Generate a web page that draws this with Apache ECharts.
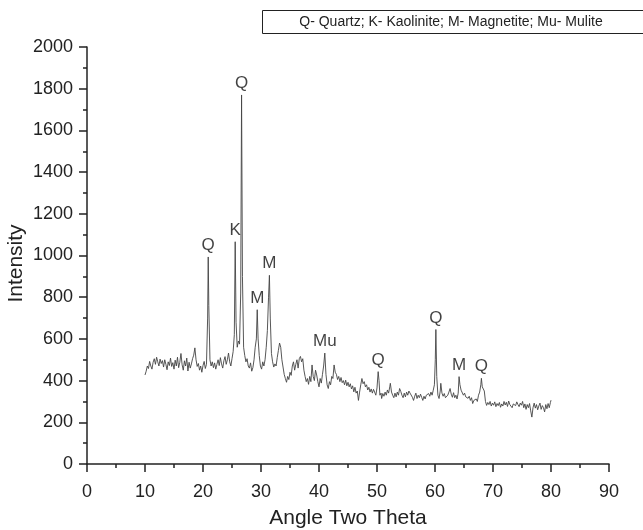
<!DOCTYPE html>
<html>
<head>
<meta charset="utf-8">
<script src="https://cdn.jsdelivr.net/npm/echarts@6/dist/echarts.min.js"></script>
<style>
  html, body { margin: 0; padding: 0; background: #fff; }
  #chart { width: 643px; height: 530px; }
</style>
</head>
<body>
<div id="chart"></div>
<script>
// XRD scan: [two-theta (deg), intensity (counts)]
const scanPoints = [
  [10.0,427],[10.2,445],[10.4,470],[10.6,458],[10.8,492],[11.0,470],[11.2,455],[11.4,488],[11.6,505],[11.8,478],
  [12.0,512],[12.2,490],[12.4,470],[12.6,503],[12.8,482],[13.0,496],[13.2,465],[13.4,500],[13.6,478],[13.8,452],
  [14.0,490],[14.2,472],[14.4,508],[14.6,468],[14.8,486],[15.0,455],[15.2,498],[15.4,470],[15.6,512],[15.8,462],
  [16.0,488],[16.2,530],[16.4,476],[16.6,450],[16.8,495],[17.0,470],[17.2,508],[17.4,446],[17.6,488],[17.8,460],
  [18.0,480],[18.2,505],[18.4,522],[18.6,557],[18.8,500],[19.0,468],[19.2,482],[19.4,450],[19.6,470],[19.8,440],
  [20.0,472],[20.2,492],[20.4,458],[20.6,478],[20.8,700],[20.9,993],[21.0,760],[21.2,500],[21.4,470],[21.6,490],
  [21.8,462],[22.0,485],[22.2,455],[22.4,478],[22.6,500],[22.8,472],[23.0,510],[23.2,480],[23.4,460],[23.6,495],
  [23.8,515],[24.0,478],[24.2,500],[24.4,532],[24.6,490],[24.8,470],[25.0,505],[25.2,540],[25.4,620],[25.55,1066],
  [25.7,680],[25.9,560],[26.1,590],[26.3,575],[26.5,820],[26.65,1770],[26.8,900],[27.0,560],[27.2,520],[27.4,490],
  [27.6,505],[27.8,470],[28.0,460],[28.2,485],[28.4,445],[28.6,462],[28.8,500],[29.0,560],[29.2,600],[29.35,740],
  [29.5,600],[29.7,520],[29.9,470],[30.1,455],[30.3,490],[30.5,470],[30.7,500],[30.9,560],[31.1,640],[31.3,800],
  [31.45,905],[31.6,700],[31.8,530],[32.0,490],[32.2,465],[32.4,480],[32.6,470],[32.8,510],[33.0,545],[33.2,580],
  [33.4,560],[33.6,500],[33.8,465],[34.0,430],[34.2,410],[34.4,392],[34.6,420],[34.8,405],[35.0,440],[35.2,425],
  [35.4,470],[35.6,490],[35.8,450],[36.0,478],[36.2,500],[36.4,460],[36.6,505],[36.8,516],[37.0,490],[37.2,505],
  [37.4,450],[37.6,420],[37.8,395],[38.0,410],[38.2,382],[38.4,420],[38.6,395],[38.8,475],[39.0,420],[39.2,400],
  [39.4,450],[39.6,427],[39.8,395],[40.0,370],[40.2,410],[40.4,388],[40.6,430],[40.8,470],[41.0,532],[41.2,430],
  [41.4,380],[41.6,362],[41.8,395],[42.0,380],[42.2,420],[42.4,410],[42.6,475],[42.8,440],[43.0,430],[43.2,405],
  [43.4,420],[43.6,395],[43.8,415],[44.0,390],[44.2,400],[44.4,380],[44.6,402],[44.8,375],[45.0,392],[45.2,370],
  [45.4,385],[45.6,360],[45.8,375],[46.0,346],[46.2,368],[46.4,340],[46.6,350],[46.8,305],[47.0,345],[47.2,380],
  [47.4,410],[47.6,385],[47.8,395],[48.0,370],[48.2,380],[48.4,355],[48.6,368],[48.8,345],[49.0,360],[49.2,340],
  [49.4,358],[49.6,350],[49.8,330],[50.0,365],[50.2,443],[50.35,400],[50.5,330],[50.7,340],[50.8,314],[51.0,338],
  [51.2,325],[51.4,345],[51.6,330],[51.8,355],[52.0,340],[52.2,370],[52.3,387],[52.5,345],[52.7,330],[52.9,318],
  [53.1,340],[53.3,322],[53.5,345],[53.7,330],[53.9,362],[54.1,348],[54.3,330],[54.5,318],[54.7,340],[54.9,322],
  [55.1,345],[55.3,330],[55.5,350],[55.7,340],[55.9,346],[56.1,320],[56.3,305],[56.5,325],[56.7,340],[56.9,314],
  [57.1,330],[57.3,318],[57.5,335],[57.7,320],[57.9,305],[58.1,325],[58.3,312],[58.5,330],[58.7,322],[58.9,338],
  [59.1,325],[59.3,345],[59.5,330],[59.7,354],[59.9,380],[60.05,500],[60.15,645],[60.3,420],[60.5,330],[60.7,314],
  [60.9,350],[61.0,387],[61.2,340],[61.4,325],[61.6,338],[61.8,318],[62.0,314],[62.2,330],[62.4,345],[62.6,362],
  [62.8,335],[63.0,320],[63.2,342],[63.4,318],[63.6,330],[63.8,312],[64.0,340],[64.15,419],[64.3,380],[64.5,354],
  [64.7,345],[64.9,330],[65.1,340],[65.3,322],[65.5,330],[65.7,315],[65.9,325],[66.1,305],[66.3,318],[66.5,290],
  [66.7,305],[66.9,298],[67.1,312],[67.3,300],[67.5,330],[67.7,345],[67.9,380],[68.0,411],[68.15,370],[68.3,362],
  [68.5,350],[68.7,300],[68.9,281],[69.1,295],[69.3,285],[69.5,300],[69.7,278],[69.9,292],[70.1,282],[70.3,298],
  [70.5,275],[70.7,290],[70.9,280],[71.1,295],[71.3,272],[71.5,288],[71.7,278],[71.9,300],[72.1,283],[72.3,296],
  [72.5,276],[72.7,302],[72.9,285],[73.1,292],[73.3,270],[73.5,288],[73.7,295],[73.9,280],[74.1,298],[74.3,285],
  [74.5,275],[74.7,292],[74.9,282],[75.1,300],[75.3,270],[75.5,288],[75.7,262],[75.9,285],[76.1,270],[76.3,290],
  [76.5,255],[76.7,225],[76.9,270],[77.1,292],[77.3,268],[77.5,285],[77.7,260],[77.9,278],[78.1,292],[78.3,262],
  [78.5,280],[78.7,270],[78.9,250],[79.1,285],[79.3,265],[79.5,290],[79.7,270],[79.9,295],[80.0,306]
];

// Phase identification of the main reflections
const tagPhase = ['Q', 'K', 'Q', 'M', 'M', 'Mu', 'Q', 'Q', 'M', 'Q'];
const tagAngle = [20.9, 25.55, 26.65, 29.35, 31.45, 41.0, 50.2, 60.15, 64.15, 68.0];
const tagIntensity = [993, 1066, 1770, 740, 905, 532, 443, 645, 419, 411];

// Axis ranges
const xTicks = { min: 0, max: 90, step: 10 };
const yTicks = { min: 0, max: 2000, step: 200 };

const phaseKey = 'Q- Quartz; K- Kaolinite; M- Magnetite; Mu- Mulite';

const FONT = '"Liberation Sans", Arial, Helvetica, sans-serif';
const INK = '#222';

const chart = echarts.init(document.getElementById('chart'), null, { renderer: 'canvas' });

const axisCommon = {
  axisLine: { show: true, lineStyle: { color: INK, width: 1.5 } },
  axisTick: { show: true, inside: false, length: 8, lineStyle: { color: INK, width: 1.5 } },
  minorTick: { show: true, splitNumber: 2, length: 4, lineStyle: { color: INK, width: 1.5 } },
  splitLine: { show: false },
  nameMoveOverlap: false,
  nameTextStyle: { color: INK, fontFamily: FONT, fontSize: 21 }
};

const tickLabel = {
  color: INK,
  fontFamily: FONT,
  fontSize: 18,
  margin: 14,
  formatter: v => String(v)
};

chart.setOption({
  backgroundColor: '#fff',
  animation: false,
  grid: { left: 87, right: 34, top: 47, bottom: 66, containLabel: false, outerBoundsMode: 'none' },
  xAxis: Object.assign({}, axisCommon, {
    type: 'value',
    min: xTicks.min, max: xTicks.max, interval: xTicks.step,
    name: 'Angle Two Theta',
    nameLocation: 'middle',
    nameGap: 44,
    axisLabel: Object.assign({}, tickLabel, { margin: 19 })
  }),
  yAxis: Object.assign({}, axisCommon, {
    type: 'value',
    min: yTicks.min, max: yTicks.max, interval: yTicks.step,
    name: 'Intensity',
    nameLocation: 'middle',
    nameGap: 60,
    nameRotate: 90,
    nameTextStyle: Object.assign({}, axisCommon.nameTextStyle, { padding: [0, 16, 0, 0] }),
    axisLabel: tickLabel
  }),
  graphic: [
    {
      type: 'rect',
      shape: { x: 262.5, y: 10.5, width: 400, height: 23 },
      style: { fill: '#fff', stroke: INK, lineWidth: 1 },
      z: 10
    },
    {
      type: 'text',
      x: 451, y: 22,
      style: {
        text: phaseKey,
        fill: INK,
        font: '14px ' + FONT,
        textAlign: 'center',
        textVerticalAlign: 'middle'
      },
      z: 11
    }
  ],
  series: [
    {
      name: 'Intensity',
      type: 'line',
      data: scanPoints,
      showSymbol: false,
      symbol: 'none',
      lineStyle: { color: '#444', width: 0.9 },
      z: 2
    },
    {
      name: 'Phase',
      type: 'scatter',
      symbolSize: 0,
      data: tagAngle.map((a, i) => ({ value: [a, tagIntensity[i]], name: tagPhase[i] })),
      label: {
        show: true,
        position: 'top',
        distance: 3,
        formatter: p => p.name,
        color: '#111',
        fontFamily: FONT,
        fontSize: 17
      },
      z: 3
    }
  ]
});
</script>
</body>
</html>
